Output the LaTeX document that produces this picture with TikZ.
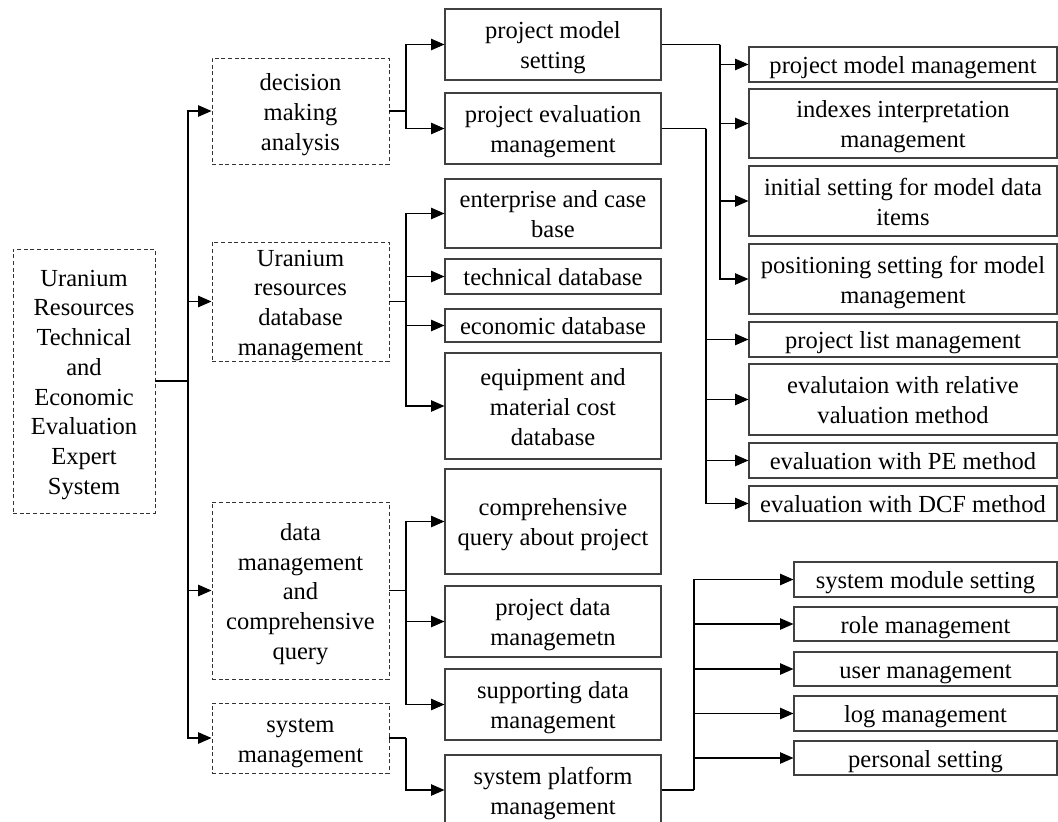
\documentclass[tikz,border=0pt]{standalone}
\usepackage{fontspec}
\setmainfont{Liberation Serif}
\usetikzlibrary{arrows.meta}
\newcommand\mystrut{\rule[-0.22em]{0pt}{1.2em}}
\newcommand\BX[7]{\node[#6, minimum width={(#4-#2)*0.75pt}, minimum height={(#5-#3)*0.75pt}] (#1) at ({(#2+#4)/2},{(#3+#5)/2}) {\mystrut#7\mystrut};}
\tikzset{
  base/.style={align=center, inner sep=0pt, font=\fontsize{18.4}{22.3}\selectfont},
  sbox/.style={base, draw=black!75, line width=0.8pt},
  dbox/.style={base, draw=black!80, line width=0.7pt, dash pattern=on 3pt off 2pt},
  ln/.style={draw=black, line width=0.9pt},
  arr/.style={ln, -{Triangle[length=10pt,width=8.5pt]}},
}
\begin{document}
\begin{tikzpicture}[x=0.75pt,y=-0.75pt]
\useasboundingbox (0,0) rectangle (1058,822);
% root
\BX{root}{13}{249}{155}{513}{dbox}{Uranium\\Resources\\Technical\\and\\Economic\\Evaluation\\Expert\\System}
% level 1
\BX{dma}{212}{58}{389}{164}{dbox}{decision\\making\\analysis}
\BX{urdm}{212}{242}{389}{361}{dbox}{Uranium\\resources\\database\\management}
\BX{dmcq}{212}{502}{389}{679}{dbox}{data\\management\\and\\comprehensive\\query}
\BX{sm}{212}{703}{389}{773}{dbox}{system\\management}
% level 2
\BX{pms}{445}{9}{661}{80}{sbox}{project model\\setting}
\BX{pem}{445}{93}{661}{164}{sbox}{project evaluation\\management}
\BX{ecb}{445}{179}{661}{248}{sbox}{enterprise and case\\base}
\BX{tdb}{445}{259}{661}{294}{sbox}{technical database}
\BX{edb}{445}{309}{661}{342}{sbox}{economic database}
\BX{emc}{445}{353}{661}{459}{sbox}{equipment and\\material cost\\database}
\BX{cqp}{445}{469}{661}{574}{sbox}{comprehensive\\query about project}
\BX{pdm}{445}{586}{661}{657}{sbox}{project data\\managemetn}
\BX{sdm}{445}{669}{661}{740}{sbox}{supporting data\\management}
\BX{spm}{445}{755}{661}{825}{sbox}{system platform\\management}
% level 3 (a)
\BX{pmm}{749}{47}{1057}{82}{sbox}{project model management}
\BX{iim}{749}{89}{1057}{158}{sbox}{indexes interpretation\\management}
\BX{isd}{749}{166}{1057}{236}{sbox}{initial setting for model data\\items}
\BX{psm}{749}{244}{1057}{314}{sbox}{positioning setting for model\\management}
\BX{plm}{749}{322}{1057}{357}{sbox}{project list management}
\BX{erv}{749}{364}{1057}{435}{sbox}{evalutaion with relative\\valuation method}
\BX{epe}{749}{443}{1057}{478}{sbox}{evaluation with PE method}
\BX{edcf}{749}{486}{1057}{521}{sbox}{evaluation with DCF method}
% level 3 (b)
\BX{sms}{794}{562}{1057}{597}{sbox}{system module setting}
\BX{rm}{794}{607}{1057}{641}{sbox}{role management}
\BX{um}{794}{652}{1057}{686}{sbox}{user management}
\BX{lm}{794}{696}{1057}{731}{sbox}{log management}
\BX{ps}{794}{741}{1057}{775}{sbox}{personal setting}
% branch points
\coordinate (t0) at (188,381);
\coordinate (b1) at (406,111);
\coordinate (b2) at (406,301.5);
\coordinate (b3) at (406,590.5);
\coordinate (b4) at (406,738);
\coordinate (b5) at (720,44.5);
\coordinate (b6) at (706,128.5);
\coordinate (b7) at (694,790);
% connectors
\draw[ln] (root.east) -- (t0);
\foreach \t in {dma,urdm,dmcq,sm} \draw[arr] (t0) |- (\t.west);
\draw[ln] (dma.east) -- (b1);
\foreach \t in {pms,pem} \draw[arr] (b1) |- (\t.west);
\draw[ln] (urdm.east) -- (b2);
\foreach \t in {ecb,tdb,edb,emc} \draw[arr] (b2) |- (\t.west);
\draw[ln] (dmcq.east) -- (b3);
\foreach \t in {cqp,pdm,sdm} \draw[arr] (b3) |- (\t.west);
\draw[ln] (sm.east) -- (b4);
\draw[arr] (b4) |- (spm.west);
\draw[ln] (pms.east) -- (b5);
\foreach \t in {pmm,iim,isd,psm} \draw[arr] (b5) |- (\t.west);
\draw[ln] (pem.east) -- (b6);
\foreach \t in {plm,erv,epe,edcf} \draw[arr] (b6) |- (\t.west);
\draw[ln] (spm.east) -- (b7);
\foreach \t in {sms,rm,um,lm,ps} \draw[arr] (b7) |- (\t.west);
\end{tikzpicture}
\end{document}
